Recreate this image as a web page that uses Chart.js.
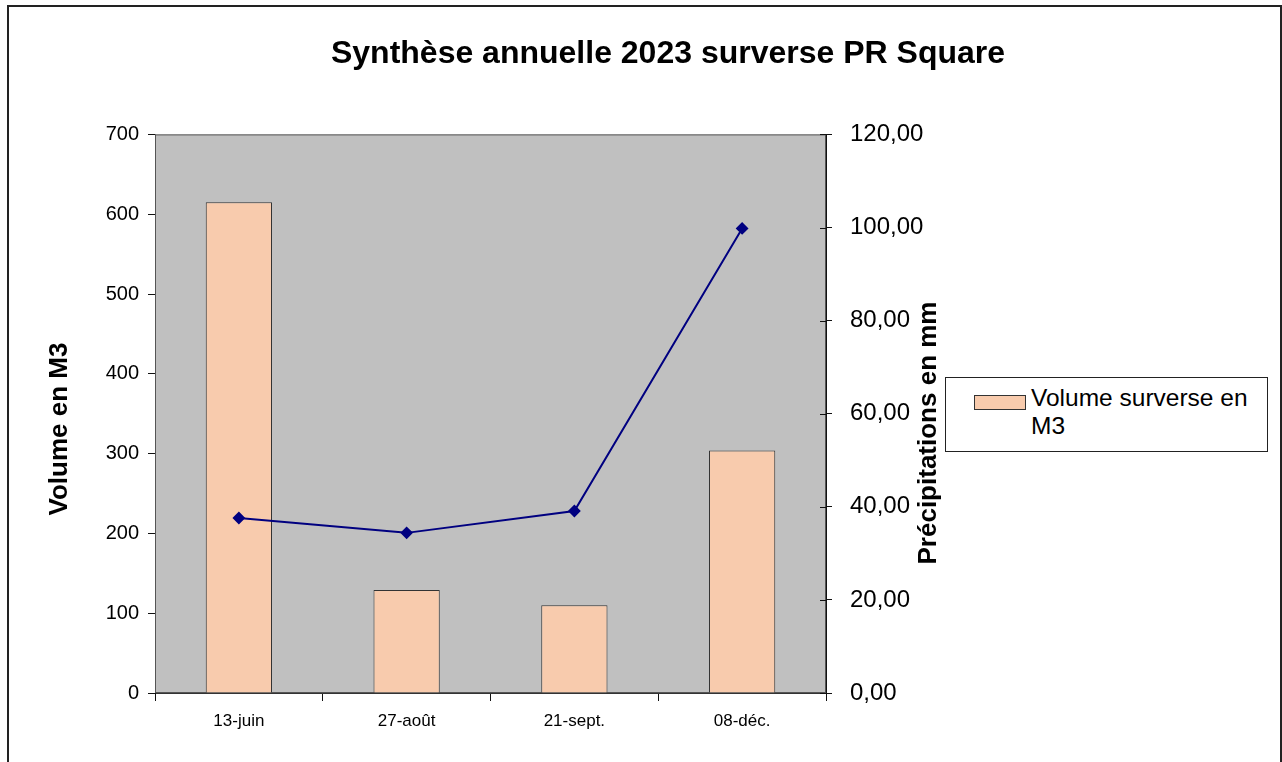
<!DOCTYPE html>
<html lang="fr">
<head>
<meta charset="utf-8">
<title>Synthèse annuelle 2023 surverse PR Square</title>
<script src="https://cdn.jsdelivr.net/npm/chart.js@4.4.1/dist/chart.umd.min.js"></script>
<style>
  body { margin: 0; background: #fff; font-family: "Liberation Sans", Arial, sans-serif; }
  #wrap { position: relative; width: 1282px; height: 762px; overflow: hidden; }
  #cadre { position: absolute; left: 7px; top: 5px; width: 1271px; height: 800px; border: 2px solid #222; pointer-events: none; }
  #legende { position: absolute; left: 945px; top: 377px; width: 321px; height: 73px; border: 1px solid #222; background: #fff; }
  #legende .carre { position: absolute; left: 28px; top: 17px; width: 50px; height: 13px; background: #f8cbad; border: 1px solid #333; }
  #legende .texte { position: absolute; left: 85px; top: 6px; width: 232px; font-size: 24.5px; line-height: 28px; color: #000; }
</style>
</head>
<body>
<div id="wrap">
  <canvas id="graphe" width="1282" height="762"></canvas>
  <div id="cadre"></div>
  <div id="legende">
    <div class="carre"></div>
    <div class="texte">Volume surverse en M3</div>
  </div>
</div>
<script>
// Données
const dates = ["13-juin", "27-août", "21-sept.", "08-déc."];
const volumes = [615, 129, 110, 304];
const precipitations = [37.6, 34.4, 39.1, 99.8];
const ticksVolume = [0, 100, 200, 300, 400, 500, 600, 700];
const ticksPluie = [0, 20, 40, 60, 80, 100, 120];

const POLICE = '"Liberation Sans", Arial, sans-serif';

// Fond gris de la zone de tracé + cadre
const fondZone = {
  id: "fondZone",
  beforeDatasetsDraw(chart) {
    const { ctx, chartArea: a } = chart;
    ctx.save();
    ctx.fillStyle = "#c0c0c0";
    ctx.fillRect(a.left, a.top, a.right - a.left, a.bottom - a.top);
    ctx.strokeStyle = "#555";
    ctx.lineWidth = 1;
    ctx.strokeRect(a.left + 0.5, a.top + 0.5, a.right - a.left - 1, a.bottom - a.top - 1);
    ctx.restore();
  },
  afterDraw(chart) {
    const { ctx, chartArea: a } = chart;
    ctx.save();
    // petits traits vers l'intérieur sur l'axe de droite
    ctx.strokeStyle = "#111";
    ctx.lineWidth = 1;
    const y1 = chart.scales.y1;
    ticksPluie.forEach((v) => {
      const y = Math.round(y1.getPixelForValue(v)) + 0.5;
      ctx.beginPath();
      ctx.moveTo(a.right - 6, y);
      ctx.lineTo(a.right, y);
      ctx.stroke();
    });
    // titres des axes
    ctx.fillStyle = "#000";
    ctx.font = "bold 26px " + POLICE;
    ctx.textAlign = "center";
    ctx.textBaseline = "middle";
    ctx.translate(60, 429);
    ctx.rotate(-Math.PI / 2);
    ctx.fillText("Volume en M3", 0, 0);
    ctx.restore();
    ctx.save();
    ctx.fillStyle = "#000";
    ctx.font = "bold 26px " + POLICE;
    ctx.textAlign = "center";
    ctx.textBaseline = "middle";
    ctx.translate(929, 433);
    ctx.rotate(-Math.PI / 2);
    ctx.fillText("Précipitations en mm", 0, 0);
    ctx.restore();
  },
};

new Chart(document.getElementById("graphe"), {
  type: "bar",
  data: {
    labels: dates,
    datasets: [
      {
        type: "line",
        label: "Précipitations en mm",
        data: precipitations,
        yAxisID: "y1",
        borderColor: "#000080",
        backgroundColor: "#000080",
        borderWidth: 2,
        pointStyle: "rectRot",
        pointRadius: 5,
        pointBackgroundColor: "#000080",
        pointBorderColor: "#000080",
        tension: 0,
        order: 0,
      },
      {
        label: "Volume surverse en M3",
        data: volumes,
        yAxisID: "y",
        backgroundColor: "#f8cbad",
        borderColor: "#333",
        borderWidth: 1,
        categoryPercentage: 1,
        barPercentage: 0.395,
        order: 1,
      },
    ],
  },
  options: {
    responsive: false,
    animation: false,
    layout: { padding: { left: 54, right: 0, top: 35, bottom: 9 } },
    plugins: {
      legend: { display: false },
      tooltip: { enabled: false },
      title: {
        display: true,
        text: "Synthèse annuelle 2023 surverse PR Square",
        color: "#000",
        font: { family: POLICE, size: 32, weight: "bold" },
        padding: { top: 0, bottom: 61 },
      },
    },
    scales: {
      x: {
        grid: { offset: true, drawOnChartArea: false, tickLength: 8, color: "#111" },
        border: { color: "#333" },
        ticks: { color: "#000", font: { family: POLICE, size: 17 }, padding: 10, maxRotation: 0 },
        afterFit(s) { s.height = 60; },
      },
      y: {
        position: "left",
        min: 0,
        max: 700,
        afterBuildTicks(s) { s.ticks = ticksVolume.map((v) => ({ value: v })); },
        grid: { drawOnChartArea: false, tickLength: 7, color: "#111" },
        border: { color: "#111" },
        ticks: { color: "#000", font: { family: POLICE, size: 20 }, padding: 9 },
        afterFit(s) { s.width = 101; },
      },
      y1: {
        position: "right",
        min: 0,
        max: 120,
        afterBuildTicks(s) { s.ticks = ticksPluie.map((v) => ({ value: v })); },
        grid: { drawOnChartArea: false, tickLength: 6, color: "#111" },
        border: { color: "#111" },
        ticks: {
          color: "#000",
          font: { family: POLICE, size: 24 },
          padding: 18,
          callback: (v) => v.toFixed(2).replace(".", ","),
        },
        afterFit(s) { s.width = 456; },
      },
    },
  },
  plugins: [fondZone],
});
</script>
</body>
</html>
